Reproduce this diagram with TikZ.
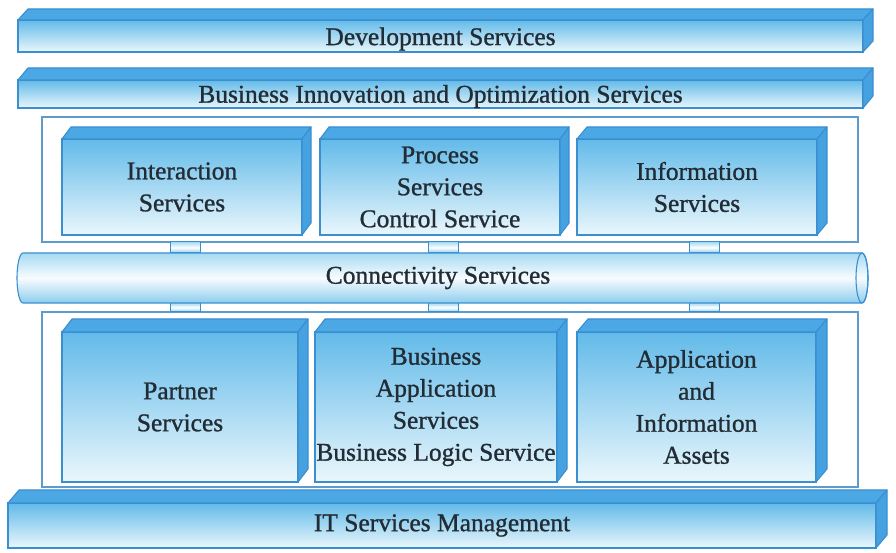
\documentclass[tikz,border=0pt]{standalone}
\usepackage{fontspec}
\setmainfont[FakeBold=1.0]{Liberation Serif}
\usetikzlibrary{calc}

\definecolor{edge}{HTML}{3A8FD0}
\definecolor{topc}{HTML}{4CA7E5}
\definecolor{sidec}{HTML}{46A1E1}
\definecolor{fronttop}{HTML}{62BAE9}
\definecolor{frontbot}{HTML}{EAF7FC}
\definecolor{ink}{HTML}{222C35}
\definecolor{frame}{HTML}{5C9BCB}
\definecolor{pipetop}{HTML}{A6DAF2}
\definecolor{pipebot}{HTML}{8DCDEE}

\tikzset{
  every node/.style={inner sep=0pt, outer sep=0pt},
  front/.style={draw=edge, line width=1.1pt, top color=fronttop, bottom color=frontbot,
    anchor=south west, text=ink, font=\fontsize{25.5}{32}\selectfont, align=center},
  topface/.style={draw=edge, line width=1.1pt, fill=topc, line join=round},
  sideface/.style={draw=edge, line width=1.1pt, fill=sidec, line join=round},
  container/.style={draw=frame, line width=1.3pt, fill=white, anchor=south west},
  stub/.style={draw=edge, line width=1pt, top color=pipetop, bottom color=pipebot,
    middle color=white, anchor=south west, minimum width=30pt},
  pipe/.style={draw=edge, line width=1.1pt, top color=pipetop, bottom color=pipebot,
    middle color=white!92!pipetop},
  label/.style={text=ink, font=\fontsize{25.5}{32}\selectfont}
}

% top and right faces of a slab whose front face is node #1, depth (#2,#3)
\newcommand\slabfaces[3]{%
  \path[topface] (#1.north west) -- ++(#2,#3) -- ($(#1.north east)+(#2,#3)$)
    -- (#1.north east) -- cycle;
  \path[sideface] (#1.north east) -- ($(#1.north east)+(#2,#3)$)
    -- ($(#1.south east)+(#2,#3)$) -- (#1.south east) -- cycle;
}
% lower a single text line without changing its box
\newcommand\lowered[2]{\raisebox{-#1}[\height][\depth]{#2}}

\begin{document}
\begin{tikzpicture}[x=1pt, y=1pt]
  \useasboundingbox (0,0) rectangle (896,553);
  \fill[white] (0,0) rectangle (896,553);

  % top bars
  \node[front, minimum width=845pt, minimum height=32pt] (dev) at (18,501) {\lowered{3pt}{Development Services}};
  \slabfaces{dev}{10}{11}
  \node[front, minimum width=845pt, minimum height=28pt] (bio) at (18,445) {\lowered{2.5pt}{Business Innovation and Optimization Services}};
  \slabfaces{bio}{10}{12}

  % frames around the two rows of services
  \node[container, minimum width=816pt, minimum height=125pt] (upper) at (42,311) {};
  \node[container, minimum width=816pt, minimum height=175pt] (lower) at (42,66) {};

  % links between the rows and the bus
  \foreach \n/\x in {a/170, b/428, c/689}{
    \node[stub, minimum height=11pt] (up\n) at (\x,300) {};
    \node[stub, minimum height=9pt] (dn\n) at (\x,241) {};
  }

  % connectivity bus
  \node[minimum width=839pt, minimum height=50pt, anchor=south west] (bus) at (23,250) {};
  \path[pipe] (bus.north east) -- (bus.north west)
    arc[start angle=90, end angle=270, x radius=6, y radius=25]
    -- (bus.south east)
    arc[start angle=-90, end angle=90, x radius=6, y radius=25] -- cycle;
  \draw[edge, line width=1.1pt] (bus.east) ellipse[x radius=6, y radius=25];
  \node[label] (bustext) at (438,275) {Connectivity Services};

  % upper row
  \node[front, minimum width=240pt, minimum height=96pt] (inter) at (62,318) {Interaction\\Services};
  \slabfaces{inter}{9}{12}
  \node[front, minimum width=240pt, minimum height=96pt] (proc) at (320,318) {Process\\Services\\Control Service};
  \slabfaces{proc}{9}{12}
  \node[front, minimum width=240pt, minimum height=96pt] (info) at (577,318) {Information\\Services};
  \slabfaces{info}{10}{12}

  % lower row
  \node[front, minimum width=236pt, minimum height=150pt] (part) at (62,71) {Partner\\Services};
  \slabfaces{part}{10}{13}
  \node[front, minimum width=242pt, minimum height=150pt] (bapp) at (315,71) {Business\\Application\\Services\\Business Logic Service};
  \slabfaces{bapp}{10}{13}
  \node[front, minimum width=239pt, minimum height=150pt] (assets) at (577,71) {Application\\and\\Information\\Assets};
  \slabfaces{assets}{11}{13}

  % bottom bar
  \node[front, minimum width=868pt, minimum height=45pt] (itsm) at (8,5) {IT Services Management};
  \slabfaces{itsm}{11}{13}
\end{tikzpicture}
\end{document}
